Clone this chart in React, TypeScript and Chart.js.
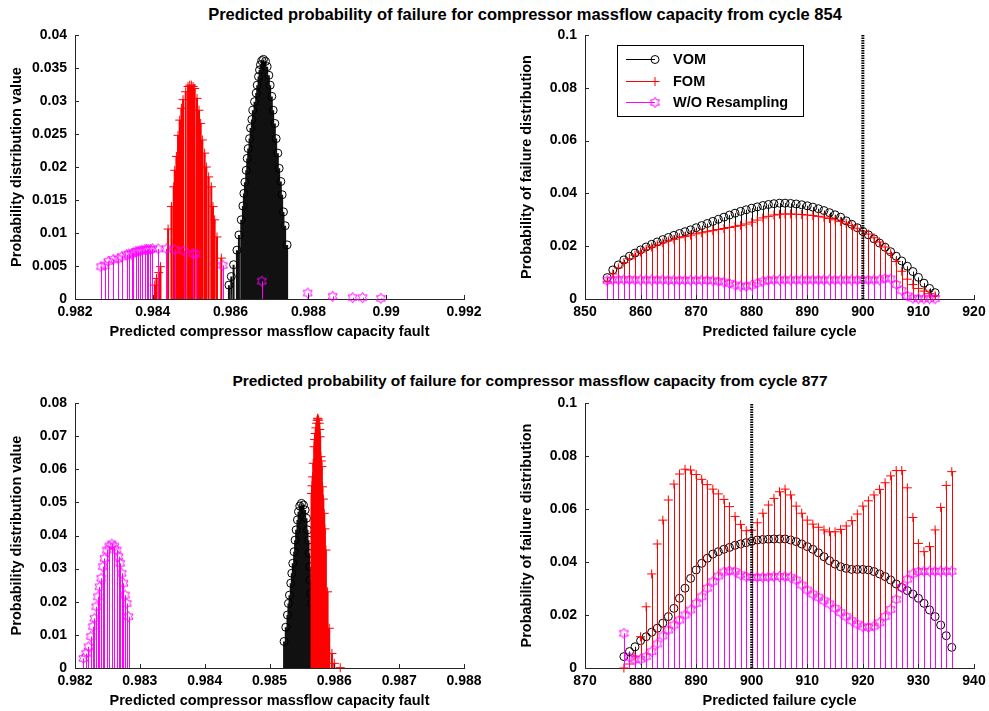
import React, { useEffect, useRef } from "react";
import { Chart, registerables } from "chart.js";

Chart.register(...registerables);

const FONT_FAMILY = '"Liberation Sans", Arial, Helvetica, sans-serif';

// ---------- text ----------
const TITLE_TOP = "Predicted probability of failure for compressor massflow capacity from cycle 854";
const TITLE_BOTTOM = "Predicted probability of failure for compressor massflow capacity from cycle 877";
const X_LABEL_FAULT = "Predicted compressor massflow capacity fault";
const X_LABEL_CYCLE = "Predicted failure cycle";
const Y_LABEL_FAULT = "Probability distribution value";
const Y_LABEL_CYCLE = "Probability of failure distribution";
const SERIES_NAMES = ["VOM", "FOM", "W/O Resampling"];
const SERIES_COLORS = ["#000000", "#ff0000", "#ff00ff"];

// ---------- ticks ----------
const TL_X_TICKS = [0.982, 0.984, 0.986, 0.988, 0.99, 0.992];
const TL_Y_TICKS = [0, 0.005, 0.01, 0.015, 0.02, 0.025, 0.03, 0.035, 0.04];
const TR_X_TICKS = [850, 860, 870, 880, 890, 900, 910, 920];
const R_Y_TICKS = [0, 0.02, 0.04, 0.06, 0.08, 0.1];
const BL_X_TICKS = [0.982, 0.983, 0.984, 0.985, 0.986, 0.987, 0.988];
const BL_Y_TICKS = [0, 0.01, 0.02, 0.03, 0.04, 0.05, 0.06, 0.07, 0.08];
const BR_X_TICKS = [870, 880, 890, 900, 910, 920, 930, 940];
const CURRENT_CYCLE = 900;

// ---------- top-left: fault distribution from cycle 854 ----------
const TL_VOM_X = [0.985957, 0.986017, 0.986077, 0.986162, 0.986214, 0.986274, 0.986316, 0.986342, 0.986368, 0.986402, 0.986427, 0.986453, 0.986487, 0.986513, 0.986547, 0.986573, 0.986615, 0.986658, 0.986684, 0.986718, 0.986744, 0.986769, 0.986803, 0.986846, 0.986897, 0.98694, 0.986983, 0.987017, 0.987059, 0.987094, 0.987137, 0.987171, 0.987214, 0.987248, 0.987291, 0.987325, 0.987359, 0.987402, 0.987453];
const TL_VOM_Y = [0.0021, 0.0034, 0.0052, 0.0074, 0.0097, 0.012, 0.0141, 0.016, 0.0177, 0.0195, 0.0213, 0.0228, 0.0243, 0.0259, 0.0272, 0.0286, 0.0299, 0.0312, 0.0324, 0.0337, 0.0347, 0.0355, 0.0361, 0.0363, 0.036, 0.0352, 0.0339, 0.0324, 0.0307, 0.0286, 0.0266, 0.0243, 0.0221, 0.0198, 0.0178, 0.0158, 0.0132, 0.0111, 0.0082];
const TL_FOM_X = [0.984051, 0.984094, 0.984154, 0.984197, 0.984393, 0.98448, 0.984538, 0.984564, 0.984607, 0.984649, 0.984692, 0.984735, 0.984778, 0.984846, 0.984906, 0.98495, 0.984991, 0.985035, 0.985077, 0.985137, 0.985188, 0.985231, 0.985274, 0.985333, 0.985376, 0.985436, 0.985504, 0.985547, 0.98559, 0.98565, 0.985761];
const TL_FOM_Y = [0.0021, 0.0031, 0.004, 0.0049, 0.0106, 0.014, 0.017, 0.0195, 0.0216, 0.0248, 0.0271, 0.0289, 0.0302, 0.0314, 0.0322, 0.0324, 0.0324, 0.0322, 0.0319, 0.0304, 0.0286, 0.0266, 0.0241, 0.0221, 0.02, 0.0185, 0.017, 0.014, 0.012, 0.0094, 0.0062];
const TL_WO_X = [0.982667, 0.982769, 0.982855, 0.982983, 0.98311, 0.9832, 0.983325, 0.98338, 0.983453, 0.9835, 0.983564, 0.98362, 0.983667, 0.98372, 0.983795, 0.98384, 0.98388, 0.98394, 0.983992, 0.984137, 0.98435, 0.984564, 0.984795, 0.985034, 0.985103, 0.985803, 0.986803, 0.987983, 0.988624, 0.989137, 0.989393, 0.989864];
const TL_WO_Y = [0.0049, 0.0051, 0.0057, 0.006, 0.0061, 0.0064, 0.0067, 0.0068, 0.0068, 0.007, 0.0072, 0.0072, 0.0073, 0.0074, 0.0075, 0.0075, 0.0075, 0.0075, 0.0076, 0.0076, 0.0076, 0.0075, 0.0073, 0.0069, 0.0068, 0.0051, 0.0027, 0.0009, 0.0004, 0.0002, 0.0002, 0.0001];

// ---------- top-right: failure cycle distribution from cycle 854 ----------
const TR_CYCLES = [854, 855, 856, 857, 858, 859, 860, 861, 862, 863, 864, 865, 866, 867, 868, 869, 870, 871, 872, 873, 874, 875, 876, 877, 878, 879, 880, 881, 882, 883, 884, 885, 886, 887, 888, 889, 890, 891, 892, 893, 894, 895, 896, 897, 898, 899, 900, 901, 902, 903, 904, 905, 906, 907, 908, 909, 910, 911, 912, 913];
const TR_VOM = [0.0081, 0.011, 0.0129, 0.0148, 0.0162, 0.0174, 0.0186, 0.0197, 0.0207, 0.0216, 0.0225, 0.0233, 0.0241, 0.0248, 0.0255, 0.0262, 0.027, 0.0278, 0.0286, 0.0294, 0.0302, 0.031, 0.0318, 0.0325, 0.0332, 0.0338, 0.0344, 0.0349, 0.0354, 0.0358, 0.0361, 0.0363, 0.0363, 0.0362, 0.036, 0.0357, 0.0353, 0.0348, 0.0342, 0.0335, 0.0327, 0.0319, 0.031, 0.0296, 0.0283, 0.027, 0.0256, 0.0243, 0.0228, 0.0212, 0.0196, 0.0179, 0.0162, 0.0144, 0.0124, 0.0104, 0.0082, 0.006, 0.004, 0.0024];
const TR_FOM = [0.0065, 0.0095, 0.0118, 0.0138, 0.0153, 0.0166, 0.0178, 0.0188, 0.0197, 0.0205, 0.0213, 0.022, 0.0226, 0.0232, 0.0237, 0.0242, 0.0247, 0.0251, 0.0255, 0.0259, 0.0263, 0.0267, 0.0271, 0.0275, 0.0279, 0.0284, 0.0291, 0.0299, 0.0307, 0.0313, 0.0318, 0.0321, 0.0322, 0.0322, 0.0321, 0.032, 0.0318, 0.0316, 0.0313, 0.031, 0.0305, 0.03, 0.0294, 0.0287, 0.0278, 0.0268, 0.0257, 0.0246, 0.0232, 0.0216, 0.0197, 0.0172, 0.0142, 0.0105, 0.0075, 0.0055, 0.004, 0.003, 0.002, 0.0012];
const TR_WO = [0.007, 0.0072, 0.0073, 0.0073, 0.0073, 0.0072, 0.0072, 0.0072, 0.0072, 0.0072, 0.0072, 0.0071, 0.0071, 0.0071, 0.0071, 0.0071, 0.0071, 0.0071, 0.0071, 0.0069, 0.0067, 0.0064, 0.0059, 0.0053, 0.0049, 0.0048, 0.0052, 0.006, 0.0067, 0.0071, 0.0072, 0.0072, 0.0072, 0.0072, 0.0072, 0.0072, 0.0072, 0.0072, 0.0072, 0.0072, 0.0072, 0.0072, 0.0072, 0.0072, 0.0072, 0.0072, 0.0072, 0.0072, 0.0072, 0.0072, 0.0078, 0.0076, 0.0055, 0.0032, 0.0012, 0.0003, 0.0001, 0.0001, 0.0001, 0.0001];

// ---------- bottom-left: fault distribution from cycle 877 ----------
const BL_VOM_X = [0.985225, 0.985251, 0.985277, 0.985292, 0.985308, 0.985328, 0.985344, 0.985359, 0.98538, 0.985395, 0.985411, 0.985431, 0.985447, 0.985467, 0.985493, 0.985524, 0.98555, 0.985571, 0.985586, 0.985602, 0.985612, 0.985622, 0.985627, 0.985638, 0.985648];
const BL_VOM_Y = [0.008, 0.0123, 0.016, 0.0195, 0.022, 0.0256, 0.0286, 0.0316, 0.0351, 0.0386, 0.0417, 0.0447, 0.0472, 0.0489, 0.0497, 0.0492, 0.0477, 0.0452, 0.0417, 0.0386, 0.0346, 0.0306, 0.0266, 0.0225, 0.0195];
const BL_FOM_X = [0.985648, 0.985656, 0.985664, 0.985674, 0.985689, 0.985695, 0.985705, 0.985716, 0.985726, 0.985733, 0.985741, 0.98575, 0.985758, 0.985767, 0.985775, 0.985782, 0.985793, 0.9858, 0.985808, 0.985818, 0.98583, 0.985844, 0.985855, 0.98587, 0.985896, 0.985921, 0.985963, 0.985999, 0.986091];
const BL_FOM_Y = [0.0527, 0.055, 0.0577, 0.0618, 0.0668, 0.069, 0.0708, 0.0725, 0.0739, 0.0748, 0.0754, 0.0752, 0.0748, 0.0739, 0.072, 0.0698, 0.0638, 0.0625, 0.0608, 0.0547, 0.051, 0.0467, 0.042, 0.0356, 0.023, 0.012, 0.0044, 0.0014, 0.0001];
const BL_WO_X = [0.982129, 0.98217, 0.982206, 0.982243, 0.982274, 0.982299, 0.982325, 0.982351, 0.982376, 0.982402, 0.982428, 0.982454, 0.98249, 0.982526, 0.982568, 0.982609, 0.982645, 0.982671, 0.982697, 0.982722, 0.982748, 0.982774, 0.9828, 0.982826];
const BL_WO_Y = [0.0029, 0.0044, 0.0064, 0.0095, 0.0125, 0.015, 0.0185, 0.0215, 0.0245, 0.0271, 0.0306, 0.0331, 0.0356, 0.0368, 0.0374, 0.0368, 0.0356, 0.0336, 0.0316, 0.0286, 0.0256, 0.022, 0.0195, 0.0155];

// ---------- bottom-right: failure cycle distribution from cycle 877 ----------
const BR_CYCLES = [877, 878, 879, 880, 881, 882, 883, 884, 885, 886, 887, 888, 889, 890, 891, 892, 893, 894, 895, 896, 897, 898, 899, 900, 901, 902, 903, 904, 905, 906, 907, 908, 909, 910, 911, 912, 913, 914, 915, 916, 917, 918, 919, 920, 921, 922, 923, 924, 925, 926, 927, 928, 929, 930, 931, 932, 933, 934, 935, 936];
const BR_VOM = [0.0043, 0.0062, 0.008, 0.0103, 0.0118, 0.0135, 0.015, 0.0169, 0.0194, 0.0225, 0.0263, 0.0301, 0.0338, 0.037, 0.0395, 0.0414, 0.043, 0.0439, 0.0448, 0.0455, 0.0463, 0.0468, 0.0473, 0.0478, 0.0483, 0.0485, 0.0486, 0.0487, 0.0487, 0.0487, 0.0483, 0.0477, 0.0468, 0.0458, 0.0448, 0.0435, 0.042, 0.0405, 0.0392, 0.0382, 0.0376, 0.0372, 0.0372, 0.0372, 0.037, 0.0364, 0.0355, 0.0345, 0.0332, 0.0317, 0.0304, 0.0292, 0.0279, 0.0263, 0.0244, 0.0219, 0.0194, 0.0162, 0.0122, 0.0078];
const BR_FOM = [0, 0.0015, 0.0045, 0.0118, 0.0231, 0.0355, 0.0468, 0.0558, 0.0634, 0.0694, 0.0732, 0.075, 0.0747, 0.073, 0.0712, 0.0692, 0.0675, 0.0657, 0.0636, 0.0609, 0.0572, 0.0542, 0.0518, 0.052, 0.0548, 0.0584, 0.0615, 0.064, 0.0665, 0.0675, 0.0653, 0.0611, 0.0584, 0.0558, 0.0543, 0.0531, 0.0521, 0.0514, 0.0514, 0.0523, 0.0536, 0.0556, 0.0581, 0.0611, 0.0631, 0.0653, 0.0674, 0.0699, 0.0725, 0.0745, 0.0745, 0.068, 0.0568, 0.047, 0.0439, 0.0458, 0.0521, 0.0606, 0.0689, 0.0741];
const BR_WO = [0.0131, 0.0041, 0.0031, 0.0033, 0.0043, 0.0062, 0.0091, 0.0121, 0.0143, 0.0162, 0.0181, 0.02, 0.0219, 0.0244, 0.0269, 0.0301, 0.0326, 0.0347, 0.0362, 0.0367, 0.0364, 0.0352, 0.0345, 0.0342, 0.0342, 0.0342, 0.0343, 0.0345, 0.0345, 0.0345, 0.0342, 0.0332, 0.0313, 0.0294, 0.0279, 0.0267, 0.0254, 0.0242, 0.0225, 0.0209, 0.0194, 0.0179, 0.0166, 0.0156, 0.0153, 0.0158, 0.0171, 0.0194, 0.0221, 0.0259, 0.0304, 0.0335, 0.0355, 0.0364, 0.0365, 0.0365, 0.0365, 0.0365, 0.0365, 0.0365];

// ---------- helpers ----------
function font(size: number) {
  return { family: FONT_FAMILY, size, weight: "bold" as const };
}

function makeHexagram(color: string): HTMLCanvasElement {
  const size = 13;
  const c = document.createElement("canvas");
  c.width = size;
  c.height = size;
  const ctx = c.getContext("2d")!;
  const cx = size / 2;
  const cy = size / 2;
  const ro = 5.2;
  const ri = ro * 0.577;
  ctx.strokeStyle = color;
  ctx.lineWidth = 1;
  ctx.beginPath();
  for (let i = 0; i < 12; i++) {
    const a = -Math.PI / 2 + (i * Math.PI) / 6;
    const r = i % 2 === 0 ? ro : ri;
    const x = cx + r * Math.cos(a);
    const y = cy + r * Math.sin(a);
    if (i === 0) ctx.moveTo(x, y);
    else ctx.lineTo(x, y);
  }
  ctx.closePath();
  ctx.stroke();
  return c;
}

const stemPlugin = {
  id: "stems",
  beforeDatasetDraw(chart: any, args: any) {
    const ds = chart.data.datasets[args.index];
    if (!ds.stemColor) return;
    const y0 = chart.scales.y.getPixelForValue(0);
    const ctx = chart.ctx;
    const w = ds.stemWidth || 1;
    ctx.save();
    ctx.strokeStyle = ds.stemColor;
    ctx.lineWidth = w;
    ctx.beginPath();
    for (const el of args.meta.data) {
      const x = w === 1 ? Math.round(el.x) + 0.5 : el.x;
      ctx.moveTo(x, y0);
      ctx.lineTo(x, el.y);
    }
    ctx.stroke();
    ctx.restore();
  },
};

const inwardTicks = {
  id: "inwardTicks",
  afterDraw(chart: any) {
    const { ctx, chartArea: a, scales } = chart;
    const x = scales.x;
    const y = scales.y;
    ctx.save();
    ctx.strokeStyle = "#262626";
    ctx.lineWidth = 1;
    ctx.beginPath();
    for (const t of x.ticks) {
      const px = Math.round(x.getPixelForValue(t.value)) + 0.5;
      ctx.moveTo(px, a.bottom);
      ctx.lineTo(px, a.bottom - 4);
    }
    for (const t of y.ticks) {
      const py = Math.round(y.getPixelForValue(t.value)) + 0.5;
      ctx.moveTo(a.left, py);
      ctx.lineTo(a.left + 4, py);
    }
    ctx.stroke();
    ctx.restore();
  },
};

function drawLegendMarker(ctx: CanvasRenderingContext2D, i: number, x: number, y: number, hex: HTMLCanvasElement) {
  ctx.save();
  ctx.strokeStyle = SERIES_COLORS[i];
  ctx.lineWidth = 1;
  if (i === 0) {
    ctx.beginPath();
    ctx.arc(x, y, 4, 0, Math.PI * 2);
    ctx.stroke();
  } else if (i === 1) {
    ctx.beginPath();
    ctx.moveTo(x - 4.5, y);
    ctx.lineTo(x + 4.5, y);
    ctx.moveTo(x, y - 4.5);
    ctx.lineTo(x, y + 4.5);
    ctx.stroke();
  } else {
    ctx.drawImage(hex, x - hex.width / 2, y - hex.height / 2);
  }
  ctx.restore();
}

function makeLegendPlugin(hex: HTMLCanvasElement) {
  return {
    id: "matLegend",
    afterDatasetsDraw(chart: any) {
      const { ctx, chartArea: a } = chart;
      const bx = a.left + 32.5;
      const by = a.top + 10.5;
      ctx.save();
      ctx.fillStyle = "#ffffff";
      ctx.fillRect(bx, by, 186, 71);
      ctx.strokeStyle = "#000000";
      ctx.lineWidth = 1;
      ctx.strokeRect(bx, by, 186, 71);
      const rows = [24, 46, 67];
      SERIES_NAMES.forEach((name, i) => {
        const ry = a.top + rows[i];
        ctx.strokeStyle = SERIES_COLORS[i];
        ctx.beginPath();
        ctx.moveTo(a.left + 41, ry + 0.5);
        ctx.lineTo(a.left + 70, ry + 0.5);
        ctx.stroke();
        drawLegendMarker(ctx, i, a.left + 70, ry + 0.5, hex);
        ctx.fillStyle = "#000000";
        ctx.font = `bold 14.5px ${FONT_FAMILY}`;
        ctx.textBaseline = "middle";
        ctx.textAlign = "left";
        ctx.fillText(name, a.left + 88, ry + 1);
      });
      ctx.restore();
    },
  };
}

type Series = { xs: number[]; ys: number[] };

function buildConfig(p: {
  series: Series[];
  xMin: number;
  xMax: number;
  xTicks: number[];
  yMax: number;
  yTicks: number[];
  xTitle: string;
  yTitle: string;
  padTop: number;
  padRight: number;
  stemWidths: number[];
  vline?: boolean;
  legend?: boolean;
  hex: HTMLCanvasElement;
}) {
  const pointStyles: any[] = ["circle", "cross", p.hex];
  const radii = [4, 4.5, 6];
  const stemColors = ["#111111", "#ff0000", "#ff00ff"];
  const datasets: any[] = p.series.map((s, i) => ({
    type: "scatter",
    label: SERIES_NAMES[i],
    data: s.xs.map((x, k) => ({ x, y: s.ys[k] })),
    showLine: false,
    pointStyle: pointStyles[i],
    pointRadius: radii[i],
    pointBorderWidth: 1,
    pointBorderColor: SERIES_COLORS[i],
    pointBackgroundColor: "rgba(0,0,0,0)",
    borderColor: SERIES_COLORS[i],
    stemColor: stemColors[i],
    stemWidth: p.stemWidths[i],
    order: 3 - i,
    clip: false,
  }));
  if (p.vline) {
    datasets.push({
      type: "line",
      label: "current",
      data: [
        { x: CURRENT_CYCLE, y: 0 },
        { x: CURRENT_CYCLE, y: p.yMax },
      ],
      borderColor: "#000000",
      borderWidth: 3,
      borderDash: [1.5, 1],
      pointRadius: 0,
      order: 0,
      clip: false,
    });
  }
  const plugins: any[] = [stemPlugin, inwardTicks];
  if (p.legend) plugins.push(makeLegendPlugin(p.hex));
  return {
    type: "scatter",
    data: { datasets },
    plugins,
    options: {
      responsive: false,
      maintainAspectRatio: false,
      animation: false,
      events: [],
      devicePixelRatio: 1,
      layout: { padding: { left: 0, right: p.padRight, top: p.padTop, bottom: 0 } },
      plugins: { legend: { display: false }, tooltip: { enabled: false }, title: { display: false } },
      scales: {
        x: {
          type: "linear",
          position: "bottom",
          min: p.xMin,
          max: p.xMax,
          afterBuildTicks: (s: any) => {
            s.ticks = p.xTicks.map((v) => ({ value: v }));
          },
          afterFit: (s: any) => {
            s.height = 42;
            s.paddingLeft = 0;
            s.paddingRight = 0;
          },
          grid: { display: false, drawTicks: false },
          border: { display: true, color: "#262626", width: 1 },
          ticks: {
            color: "#000000",
            font: font(14),
            padding: 5,
            maxRotation: 0,
            autoSkip: false,
            callback: (v: any) => String(v),
          },
          title: { display: true, text: p.xTitle, color: "#000000", font: font(14.5), padding: { top: 0, bottom: 0 } },
        },
        y: {
          type: "linear",
          position: "left",
          min: 0,
          max: p.yMax,
          afterBuildTicks: (s: any) => {
            s.ticks = p.yTicks.map((v) => ({ value: v }));
          },
          afterFit: (s: any) => {
            s.width = 75;
            s.paddingTop = 0;
            s.paddingBottom = 0;
          },
          grid: { display: false, drawTicks: false },
          border: { display: true, color: "#262626", width: 1 },
          ticks: {
            color: "#000000",
            font: font(14),
            padding: 8,
            autoSkip: false,
            callback: (v: any) => String(v),
          },
          title: { display: true, text: p.yTitle, color: "#000000", font: font(14.5), padding: { top: 8, bottom: 0 } },
        },
      },
    },
  };
}

function Panel(props: { left: number; top: number; width: number; height: number; make: (hex: HTMLCanvasElement) => any }) {
  const ref = useRef<HTMLCanvasElement>(null);
  useEffect(() => {
    const hex = makeHexagram(SERIES_COLORS[2]);
    const chart = new Chart(ref.current as HTMLCanvasElement, props.make(hex));
    return () => chart.destroy();
  }, []);
  return (
    <canvas
      ref={ref}
      width={props.width}
      height={props.height}
      style={{ position: "absolute", left: props.left, top: props.top, width: props.width, height: props.height }}
    />
  );
}

const titleStyle = (left: number, top: number, size: number): React.CSSProperties => ({
  position: "absolute",
  left,
  top,
  transform: "translateX(-50%)",
  whiteSpace: "nowrap",
  fontFamily: FONT_FAMILY,
  fontWeight: "bold",
  fontSize: size,
  lineHeight: "18px",
  color: "#000",
});

export default function App() {
  return (
    <div style={{ position: "absolute", left: 0, top: 0, width: 989, height: 711, overflow: "hidden", background: "#fff" }}>
      <div style={titleStyle(525, 5, 16.5)}>{TITLE_TOP}</div>
      <div style={titleStyle(530, 372, 15.5)}>{TITLE_BOTTOM}</div>
      <Panel
        left={0}
        top={0}
        width={490}
        height={341}
        make={(hex) =>
          buildConfig({
            series: [
              { xs: TL_VOM_X, ys: TL_VOM_Y },
              { xs: TL_FOM_X, ys: TL_FOM_Y },
              { xs: TL_WO_X, ys: TL_WO_Y },
            ],
            xMin: 0.982,
            xMax: 0.992,
            xTicks: TL_X_TICKS,
            yMax: 0.04,
            yTicks: TL_Y_TICKS,
            xTitle: X_LABEL_FAULT,
            yTitle: Y_LABEL_FAULT,
            padTop: 35,
            padRight: 26,
            stemWidths: [2, 2, 1],
            hex,
          })
        }
      />
      <Panel
        left={510}
        top={0}
        width={479}
        height={341}
        make={(hex) =>
          buildConfig({
            series: [
              { xs: TR_CYCLES, ys: TR_VOM },
              { xs: TR_CYCLES, ys: TR_FOM },
              { xs: TR_CYCLES, ys: TR_WO },
            ],
            xMin: 850,
            xMax: 920,
            xTicks: TR_X_TICKS,
            yMax: 0.1,
            yTicks: R_Y_TICKS,
            xTitle: X_LABEL_CYCLE,
            yTitle: Y_LABEL_CYCLE,
            padTop: 35,
            padRight: 15,
            stemWidths: [1, 1, 1],
            vline: true,
            legend: true,
            hex,
          })
        }
      />
      <Panel
        left={0}
        top={360}
        width={490}
        height={350}
        make={(hex) =>
          buildConfig({
            series: [
              { xs: BL_VOM_X, ys: BL_VOM_Y },
              { xs: BL_FOM_X, ys: BL_FOM_Y },
              { xs: BL_WO_X, ys: BL_WO_Y },
            ],
            xMin: 0.982,
            xMax: 0.988,
            xTicks: BL_X_TICKS,
            yMax: 0.08,
            yTicks: BL_Y_TICKS,
            xTitle: X_LABEL_FAULT,
            yTitle: Y_LABEL_FAULT,
            padTop: 43,
            padRight: 26,
            stemWidths: [2, 2, 1],
            hex,
          })
        }
      />
      <Panel
        left={510}
        top={360}
        width={479}
        height={350}
        make={(hex) =>
          buildConfig({
            series: [
              { xs: BR_CYCLES, ys: BR_VOM },
              { xs: BR_CYCLES, ys: BR_FOM },
              { xs: BR_CYCLES, ys: BR_WO },
            ],
            xMin: 870,
            xMax: 940,
            xTicks: BR_X_TICKS,
            yMax: 0.1,
            yTicks: R_Y_TICKS,
            xTitle: X_LABEL_CYCLE,
            yTitle: Y_LABEL_CYCLE,
            padTop: 43,
            padRight: 15,
            stemWidths: [1, 1, 1],
            vline: true,
            hex,
          })
        }
      />
    </div>
  );
}
